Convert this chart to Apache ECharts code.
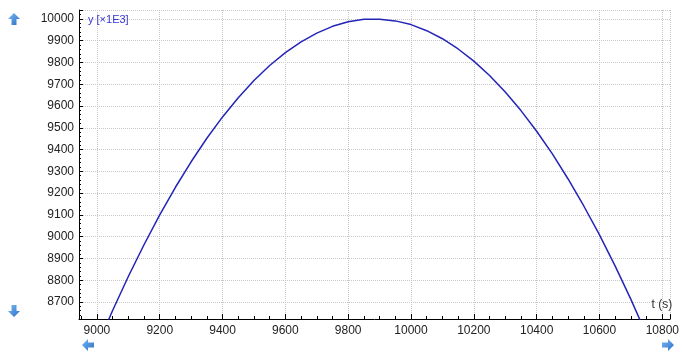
<!DOCTYPE html>
<html>
<head>
<meta charset="utf-8">
<script src="https://cdn.jsdelivr.net/npm/echarts@6/dist/echarts.min.js"></script>
<style>
  html, body { margin: 0; padding: 0; background: #fff; }
  #chart { width: 682px; height: 352px; }
</style>
</head>
<body>
<div id="chart"></div>
<script>
// values (t in s, y in x1E3)
const timeValues = [9000, 9050, 9100, 9150, 9200, 9250, 9300, 9350, 9400, 9450,
    9500, 9550, 9600, 9650, 9700, 9750, 9800, 9850, 9900, 9950,
    10000, 10050, 10100, 10150, 10200, 10250, 10300, 10350, 10400, 10450,
    10500, 10550, 10600, 10650, 10700, 10750, 10800];
const heightValues = [8495, 8661, 8817, 8963, 9100, 9227, 9344, 9452, 9550, 9638,
    9717, 9786, 9845, 9895, 9935, 9966, 9987, 9998, 9999, 9991,
    9974, 9946, 9909, 9862, 9806, 9740, 9664, 9579, 9484, 9380,
    9265, 9141, 9008, 8865, 8712, 8549, 8377];
const xRange = [8943, 10825];
const yRange = [8622, 10041];

function arrowShape(dir) {
    // simple block arrow, pointing up by default
    let pts = [[6, 0], [12, 6], [8.5, 6], [8.5, 12], [3.5, 12], [3.5, 6], [0, 6]];
    return pts.map(function (p) {
        if (dir === 'down') return [p[0], 12 - p[1]];
        if (dir === 'left') return [p[1], p[0]];
        if (dir === 'right') return [12 - p[1], p[0]];
        return p;
    });
}

function makeArrow(dir, x, y) {
    return {
        type: 'polygon',
        x: x,
        y: y,
        shape: { points: arrowShape(dir) },
        style: {
            fill: new echarts.graphic.LinearGradient(0, 0, 1, 1, [
                { offset: 0, color: '#7ab8f0' },
                { offset: 1, color: '#2a6fc9' }
            ])
        }
    };
}

function plainNumber(v) {
    return String(Math.round(v));
}

window.onload = function () {
    const chart = echarts.init(document.getElementById('chart'));
    const lineData = timeValues.map(function (t, i) { return [t, heightValues[i]]; });

    chart.setOption({
        animation: false,
        textStyle: { fontFamily: 'Liberation Sans, Arial, sans-serif' },
        grid: { left: 79, right: 4, top: 10, bottom: 33 },
        xAxis: {
            type: 'value',
            min: xRange[0],
            max: xRange[1],
            splitNumber: 9,
            name: 't (s)',
            nameLocation: 'end',
            nameGap: 2,
            nameTextStyle: { color: '#333', fontSize: 12, align: 'right', verticalAlign: 'bottom', padding: [0, 0, 8, 0] },
            axisLine: { lineStyle: { color: '#000', width: 1 } },
            axisTick: { inside: true, length: 5, lineStyle: { color: '#000' } },
            minorTick: { show: true, splitNumber: 4, length: 3, lineStyle: { color: '#000' } },
            axisLabel: {
                color: '#222',
                fontSize: 12,
                margin: 6,
                formatter: plainNumber,
                showMinLabel: false,
                showMaxLabel: false
            },
            splitLine: { show: true, lineStyle: { color: '#c8c8c8', type: 'dotted' } }
        },
        yAxis: {
            type: 'value',
            min: yRange[0],
            max: yRange[1],
            splitNumber: 14,
            name: 'y [\u00d71E3]',
            nameLocation: 'end',
            nameGap: -10,
            nameTextStyle: { color: '#3434d0', fontSize: 11, align: 'left', verticalAlign: 'middle', padding: [0, 0, 0, 9] },
            axisLine: { show: true, lineStyle: { color: '#000', width: 1 } },
            axisTick: { inside: true, length: 4, lineStyle: { color: '#000' } },
            minorTick: { show: true, splitNumber: 5, length: 2, lineStyle: { color: '#000' } },
            axisLabel: {
                color: '#222',
                fontSize: 12,
                margin: 5,
                formatter: plainNumber,
                showMinLabel: false,
                showMaxLabel: false
            },
            splitLine: { show: true, lineStyle: { color: '#c8c8c8', type: 'dotted' } }
        },
        series: [
            {
                type: 'line',
                data: lineData,
                smooth: false,
                symbol: 'none',
                clip: true,
                lineStyle: { color: '#2424b8', width: 1.5 }
            }
        ],
        graphic: [
            makeArrow('up', 8, 13),
            makeArrow('down', 8, 305),
            makeArrow('left', 82, 339),
            makeArrow('right', 662, 339)
        ]
    });
};
</script>
</body>
</html>
